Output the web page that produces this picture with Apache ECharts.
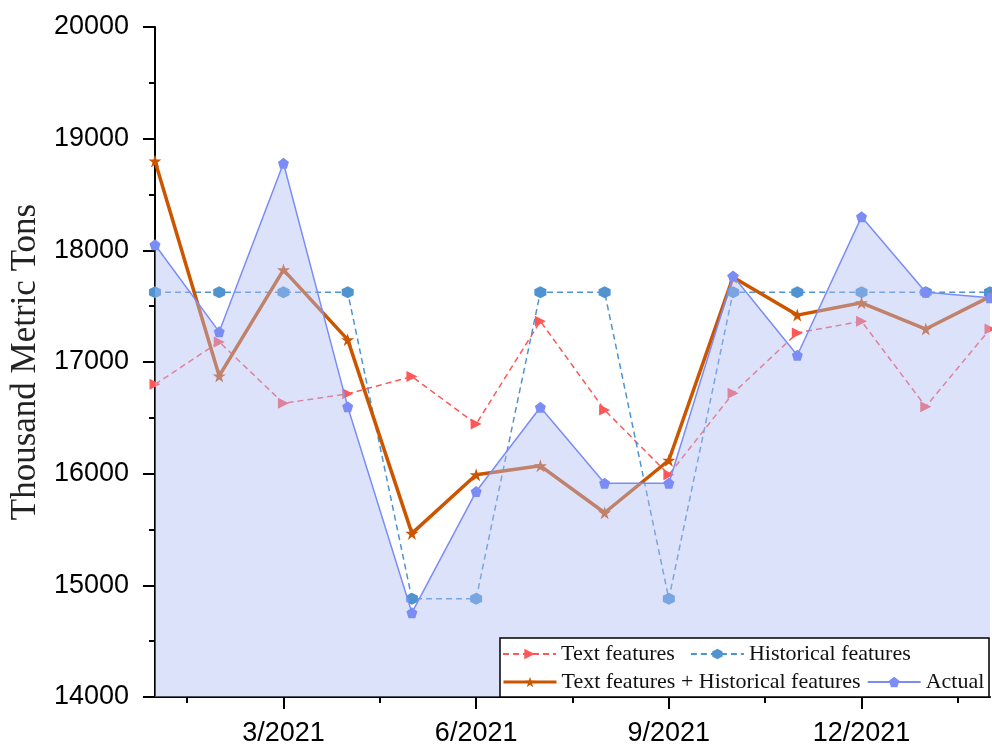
<!DOCTYPE html>
<html>
<head>
<meta charset="utf-8">
<script src="https://cdn.jsdelivr.net/npm/echarts@6/dist/echarts.min.js"></script>
<style>
html,body{margin:0;padding:0;background:#fff;}
#chart{width:992px;height:747px;}
</style>
</head>
<body>
<div id="chart"></div>
<script>
// month index: 1 = 1/2021 ... 14 = 2/2022
const monthIndex = [1, 2, 3, 4, 5, 6, 7, 8, 9, 10, 11, 12, 13, 14];
const textFeatures = [16800, 17180, 16630, 16715, 16870, 16445, 17365, 16570, 15990, 16720, 17260, 17365, 16600, 17295];
const historicalFeatures = [17625, 17625, 17625, 17625, 14880, 14880, 17625, 17625, 14880, 17625, 17625, 17625, 17625, 17625];
const combinedFeatures = [18800, 16875, 17825, 17200, 15465, 15990, 16070, 15650, 16120, 17760, 17420, 17530, 17295, 17585];
const actualValues = [18050, 17270, 18780, 16600, 14755, 15840, 16595, 15915, 15915, 17770, 17060, 18300, 17625, 17575];

const xTickValues = [3, 6, 9, 12];
const xTickLabels = ['3/2021', '6/2021', '9/2021', '12/2021'];
const xMinorTickValues = [1.5, 4.5, 7.5, 10.5, 13.5];

const seriesNames = ['Text features', 'Historical features', 'Text features + Historical features', 'Actual'];

function pairs(vals) { return monthIndex.map((m, i) => [m, vals[i]]); }

const triRight = 'path://M-1,-1 L1,0 L-1,1 Z';
const hexagon = 'path://M0,-1 L0.866,-0.5 L0.866,0.5 L0,1 L-0.866,0.5 L-0.866,-0.5 Z';
const star = 'path://M0,-1 L0.2245,-0.309 L0.951,-0.309 L0.363,0.118 L0.588,0.809 L0,0.382 L-0.588,0.809 L-0.363,0.118 L-0.951,-0.309 L-0.2245,-0.309 Z';
const pentagon = 'path://M0,-1 L0.951,-0.309 L0.588,0.809 L-0.588,0.809 L-0.951,-0.309 Z';

const chart = echarts.init(document.getElementById('chart'), null, {renderer: 'canvas'});

const legendText = {fontFamily: 'Liberation Serif', fontSize: 22, color: '#111'};

chart.setOption({
  animation: false,
  backgroundColor: '#fff',
  grid: {left: 155, right: 2, top: 27, bottom: 50, containLabel: false, outerBoundsMode: 'none'},
  xAxis: [{
    type: 'value', min: 1, max: 14, position: 'bottom',
    splitLine: {show: false},
    axisLine: {show: true, onZero: false, lineStyle: {color: '#000', width: 2}},
    axisTick: {show: true, customValues: xTickValues, length: 12, lineStyle: {color: '#000', width: 2}},
    axisLabel: {
      customValues: xTickValues,
      formatter: v => xTickLabels[xTickValues.indexOf(v)] || '',
      fontFamily: 'Liberation Sans', fontSize: 27, color: '#000', margin: 23
    }
  }, {
    type: 'value', min: 1, max: 14, position: 'bottom',
    splitLine: {show: false},
    axisLine: {show: false},
    axisTick: {show: true, customValues: xMinorTickValues, length: 6, lineStyle: {color: '#000', width: 2}},
    axisLabel: {show: false}
  }],
  yAxis: {
    type: 'value', min: 14000, max: 20000, interval: 1000,
    name: 'Thousand Metric Tons', nameLocation: 'middle', nameGap: 109,
    nameTextStyle: {fontFamily: 'Liberation Serif', fontSize: 35, color: '#222'},
    splitLine: {show: false},
    axisLine: {show: true, lineStyle: {color: '#000', width: 2}},
    axisTick: {show: true, length: 12, lineStyle: {color: '#000', width: 2}},
    minorTick: {show: true, splitNumber: 2, length: 6, lineStyle: {color: '#000', width: 2}},
    axisLabel: {formatter: v => String(v), fontFamily: 'Liberation Sans', fontSize: 27, color: '#000', margin: 26}
  },
  legend: [{
    data: [seriesNames[0], seriesNames[1]],
    left: 502, top: 643, itemGap: 15, itemWidth: 53, itemHeight: 13, padding: 0,
    textStyle: legendText, selectedMode: false, z: 6
  }, {
    data: [{name: seriesNames[2], lineStyle: {width: 3}}, seriesNames[3]],
    left: 502, top: 671, itemGap: 6, itemWidth: 53, itemHeight: 13, padding: 0,
    textStyle: legendText, selectedMode: false, z: 6
  }],
  graphic: {
    elements: [{
      type: 'rect', z: 5,
      shape: {x: 500, y: 638, width: 489, height: 59},
      style: {fill: '#fff', stroke: '#000', lineWidth: 1.5}
    }]
  },
  series: [{
    name: seriesNames[0], type: 'line', z: 2,
    data: pairs(textFeatures),
    symbol: triRight, symbolSize: 11,
    itemStyle: {color: '#ff5757'},
    lineStyle: {color: '#ff5757', width: 1.5, type: [6, 4]}
  }, {
    name: seriesNames[1], type: 'line', z: 2,
    data: pairs(historicalFeatures),
    symbol: hexagon, symbolSize: 12,
    itemStyle: {color: '#4f94d0'},
    lineStyle: {color: '#4f94d0', width: 1.5, type: [6, 4]}
  }, {
    name: seriesNames[2], type: 'line', z: 2,
    data: pairs(combinedFeatures),
    symbol: star, symbolSize: 13,
    itemStyle: {color: '#cc5500'},
    lineStyle: {color: '#cc5500', width: 3.5}
  }, {
    name: seriesNames[3], type: 'line', z: 3,
    data: pairs(actualValues),
    symbol: pentagon, symbolSize: 11,
    itemStyle: {color: '#7b8df5'},
    lineStyle: {color: '#7b8df5', width: 1.5},
    areaStyle: {color: 'rgba(178,189,246,0.62)', origin: 'start'}
  }]
});
</script>
</body>
</html>
